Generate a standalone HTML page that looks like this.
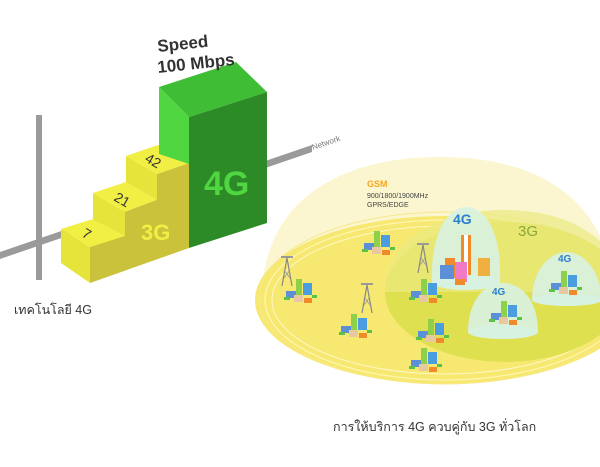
<!DOCTYPE html>
<html><head><meta charset="utf-8"><style>
html,body{margin:0;padding:0;background:#fff;width:600px;height:467px;overflow:hidden}
svg text{font-family:"Liberation Sans","Noto Sans CJK SC",sans-serif}
</style></head><body>
<svg width="600" height="467" viewBox="0 0 600 467" xmlns="http://www.w3.org/2000/svg">
<defs>
<g id="city">
  <rect x="-14" y="-2" width="10" height="7" fill="#5b8fd8"/>
  <rect x="-4" y="-14" width="6" height="16" fill="#8fd04a"/>
  <rect x="3" y="-10" width="9" height="12" fill="#4a9ee0"/>
  <rect x="-6" y="2" width="9" height="7" fill="#e8c8a0"/>
  <rect x="4" y="5" width="8" height="5" fill="#f08a2a"/>
  <rect x="-16" y="4" width="6" height="3" fill="#5cc04a"/>
  <rect x="12" y="2" width="5" height="3" fill="#5cc04a"/>
</g>
<g id="tower">
  <line x1="0" y1="0" x2="-5" y2="28" stroke="#888" stroke-width="1.2"/>
  <line x1="0" y1="0" x2="5" y2="28" stroke="#888" stroke-width="1.2"/>
  <line x1="-3" y1="12" x2="3" y2="20" stroke="#999" stroke-width="0.8"/>
  <line x1="3" y1="12" x2="-3" y2="20" stroke="#999" stroke-width="0.8"/>
  <rect x="-6" y="-2" width="12" height="2" fill="#999"/>
</g>
</defs>
<!-- axes -->
<polygon points="0,252 312,145 312,152 0,259" fill="#9a9a9a"/>
<rect x="36" y="115" width="6" height="165" fill="#9a9a9a"/>
<text x="0" y="0" font-size="8" fill="#777" transform="translate(313,150) rotate(-19)">Network</text>
<!-- staircase -->
<polygon points="90,247 125,235 125,212 157,200 157,174 189,163 189,248 90,283" fill="#c9c23a"/>
<polygon points="61,229 90,247 90,283 61,263" fill="#e6e33a"/>
<polygon points="61,229 93,219 125,236 90,247" fill="#f2ef44"/>
<polygon points="93,193 125,212 125,236 93,219" fill="#e6e33a"/>
<polygon points="93,193 126,182 157,200 125,212" fill="#f2ef44"/>
<polygon points="126,156 157,174 157,200 126,182" fill="#e6e33a"/>
<polygon points="126,156 158,145 189,163 157,174" fill="#f2ef44"/>
<!-- green block -->
<polygon points="159,87 189,117 189,164 159,154" fill="#4fd640"/>
<polygon points="159,87 236,62 267,92 189,117" fill="#3fbd35"/>
<polygon points="189,117 267,92 267,223 189,248" fill="#2c8a27"/>
<text x="204" y="195" font-size="34" fill="#4fd640" font-weight="bold">4G</text>
<text x="141" y="240" font-size="22" fill="#f2ef44" font-weight="bold">3G</text>
<text x="0" y="0" font-size="14" fill="#333" transform="translate(81,236) rotate(30)">7</text>
<text x="0" y="0" font-size="14" fill="#333" transform="translate(113,200) rotate(30)">21</text>
<text x="0" y="0" font-size="14" fill="#333" transform="translate(144,161) rotate(30)">42</text>
<text x="0" y="0" font-size="17" fill="#333" font-weight="bold" transform="translate(158,52) rotate(-6)">Speed</text>
<text x="0" y="0" font-size="17" fill="#333" font-weight="bold" transform="translate(158,73) rotate(-6)">100 Mbps</text>
<text x="14" y="314" font-size="12.5" fill="#333">เทคโนโลยี 4G</text>
<!-- right network -->
<path d="M262,300 C262,200 340,157 440,157 C540,157 610,200 615,300 Z" fill="#fbf6d0"/>
<ellipse cx="445" cy="300" rx="190" ry="84" fill="#f7e872"/>
<ellipse cx="445" cy="300" rx="180" ry="80" fill="none" stroke="#fff6b0" stroke-width="1.2"/>
<ellipse cx="445" cy="298" rx="186" ry="86" fill="none" stroke="#f7e88a" stroke-width="1"/>
<ellipse cx="445" cy="300" rx="173" ry="74" fill="none" stroke="#fffbd8" stroke-width="0.8"/>
<ellipse cx="505" cy="292" rx="120" ry="70" fill="#dfe050"/>
<path d="M385,292 C385,240 440,210 505,210 C570,210 620,240 625,292 Z" fill="#eaea80" opacity="0.7"/>
<path d="M432,282 C430,230 450,207 466,207 C484,207 502,230 500,282 Z" fill="#d8f2e2" opacity="0.9"/>
<ellipse cx="466" cy="282" rx="34" ry="8" fill="#d8f2e2"/>
<path d="M468,332 C468,300 485,283 503,283 C521,283 538,300 538,332 Z" fill="#d8f2e2" opacity="0.9"/>
<ellipse cx="503" cy="332" rx="35" ry="7" fill="#d8f2e2"/>
<path d="M532,300 C532,270 550,252 566,252 C584,252 600,270 602,300 Z" fill="#d8f2e2" opacity="0.9"/>
<ellipse cx="567" cy="300" rx="35" ry="6" fill="#d8f2e2"/>
<text x="453" y="224" font-size="14" font-weight="bold" fill="#2a7fd0">4G</text>
<text x="492" y="295" font-size="10" font-weight="bold" fill="#2a7fd0">4G</text>
<text x="558" y="262" font-size="10" font-weight="bold" fill="#2a7fd0">4G</text>
<text x="518" y="236" font-size="15" fill="#8aa83a">3G</text>
<text x="367" y="187" font-size="9" font-weight="bold" fill="#f5a623">GSM</text>
<text x="367" y="198" font-size="7" fill="#444">900/1800/1900MHz</text>
<text x="367" y="207" font-size="7" fill="#444">GPRS/EDGE</text>
<use href="#tower" x="287" y="258"/>
<use href="#tower" x="367" y="285"/>
<use href="#tower" x="423" y="245"/>
<use href="#city" x="300" y="293"/>
<use href="#city" x="378" y="245"/>
<use href="#city" x="355" y="328"/>
<use href="#city" x="425" y="293"/>
<use href="#city" x="432" y="333"/>
<use href="#city" x="425" y="362"/>
<g>
<rect x="461" y="235" width="10" height="40" fill="#f08a2a"/><rect x="464" y="235" width="4" height="40" fill="#fff"/>
<rect x="445" y="258" width="10" height="20" fill="#f08a2a"/>
<rect x="440" y="265" width="14" height="14" fill="#5b8fd8"/>
<rect x="455" y="262" width="12" height="20" fill="#f07ac8"/>
<rect x="478" y="258" width="12" height="18" fill="#f0b040"/>
<rect x="455" y="279" width="10" height="6" fill="#f08a2a"/>
</g>
<use href="#city" x="505" y="315"/>
<use href="#city" x="565" y="285"/>
<text x="333" y="431" font-size="12.5" fill="#333">การให้บริการ 4G ควบคู่กับ 3G ทั่วโลก</text>
</svg>
</body></html>
